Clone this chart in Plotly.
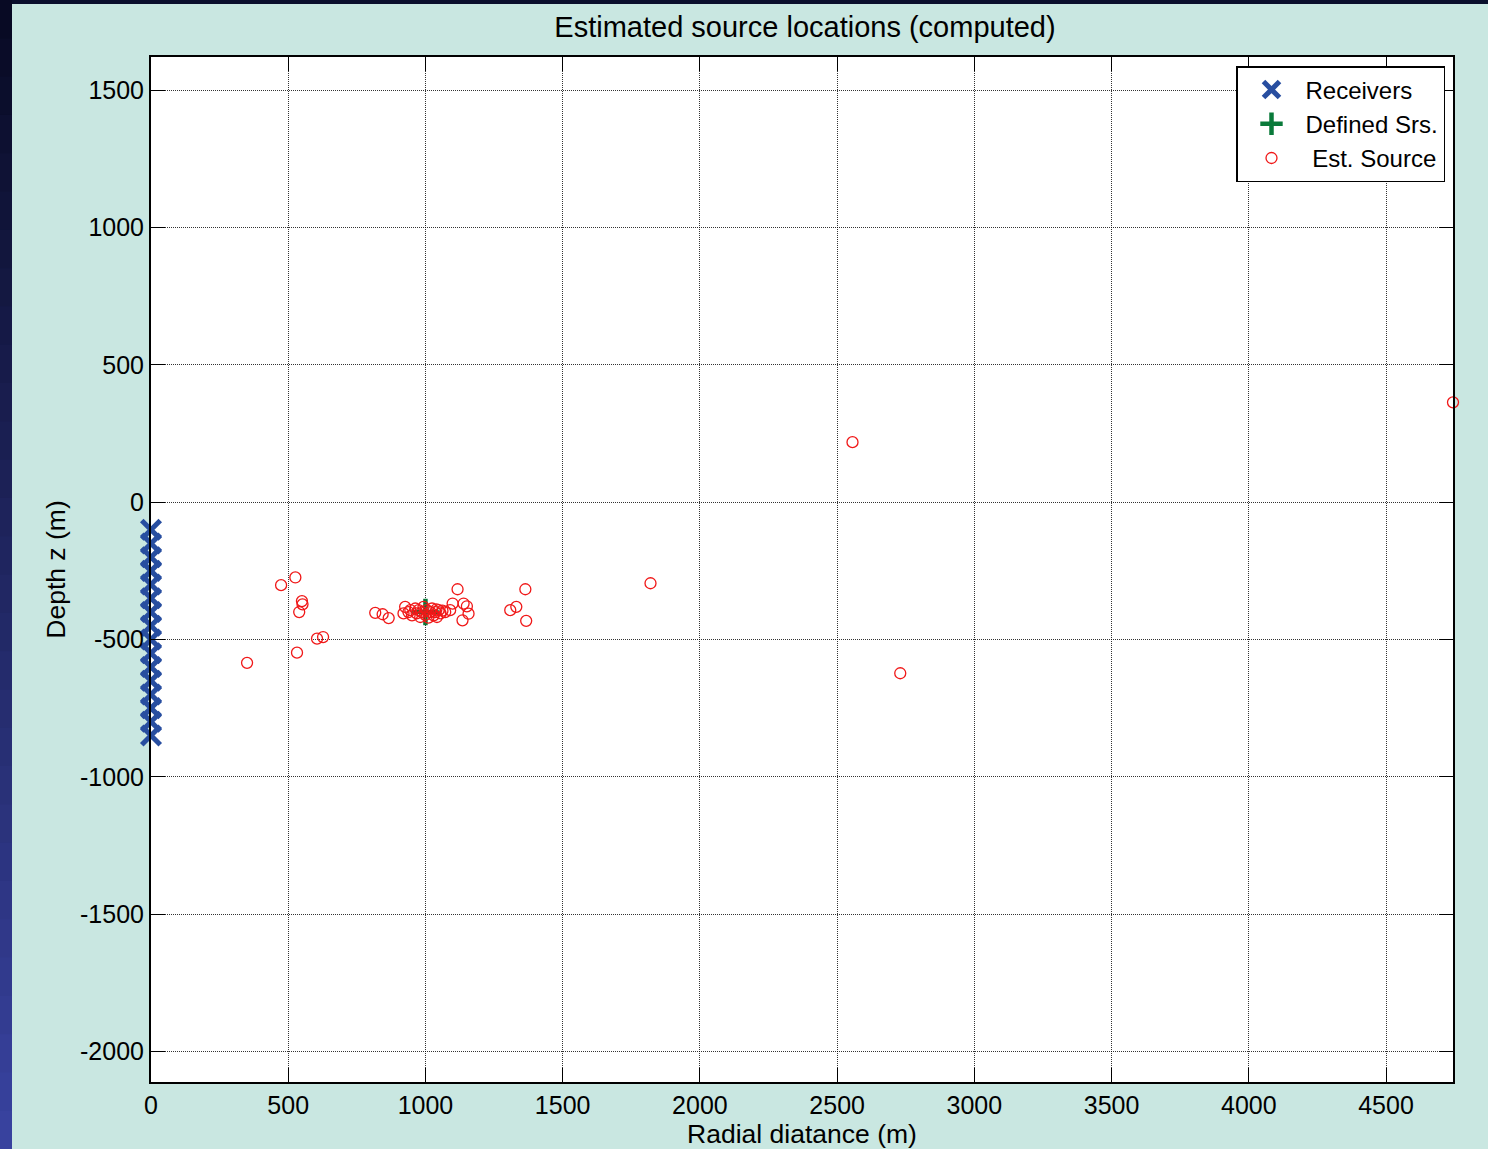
import plotly.graph_objects as go

# ---------------- data ----------------
receiver_x = [0] * 16
receiver_z = [-100, -150, -200, -250, -300, -350, -400, -450, -500, -550,
              -600, -650, -700, -750, -800, -850]

defined_x = [1000]
defined_z = [-400]

est_x = [350, 474, 526, 550, 552, 540, 605, 627, 532,
         817, 844, 866,
         926, 920, 938, 945, 951, 963, 968, 975, 981, 987, 993, 999, 1005,
         1011, 1018, 1024, 1030, 1036, 1042, 1048, 1055, 1062, 1072, 1040,
         1117, 1099, 1139, 1151, 1157, 1135, 1090,
         1364, 1309, 1331, 1367,
         1820, 2556, 2730, 4744]
est_z = [-585, -302, -274, -360, -372, -400, -497, -491, -548,
         -403, -408, -422,
         -381, -405, -400, -393, -412, -387, -405, -393, -418, -400, -381, -410, -393,
         -420, -400, -387, -412, -400, -418, -393, -405, -395, -400, -390,
         -317, -369, -369, -379, -406, -430, -393,
         -317, -393, -381, -432,
         -295, 219, -623, 364]

x_ticks = [0, 500, 1000, 1500, 2000, 2500, 3000, 3500, 4000, 4500]
x_tick_labels = ["0", "500", "1000", "1500", "2000", "2500", "3000", "3500", "4000", "4500"]
y_ticks = [-2000, -1500, -1000, -500, 0, 500, 1000, 1500]
y_tick_labels = ["-2000", "-1500", "-1000", "-500", "0", "500", "1000", "1500"]

# ---------------- figure ----------------
FONT = "Liberation Sans, Arial, Helvetica, sans-serif"
W, H = 1488, 1149
L, R, T, B = 151, 35, 57, 67
PW, PH = W - L - R, H - T - B

fig = go.Figure()

fig.add_trace(go.Scatter(
    x=receiver_x, y=receiver_z, mode="markers", name="Receivers",
    marker=dict(symbol="x-thin", size=18.5, color="#284ea0",
                line=dict(color="#284ea0", width=5)),
    cliponaxis=False,
))
fig.add_trace(go.Scatter(
    x=defined_x, y=defined_z, mode="markers", name="Defined Srs.",
    marker=dict(symbol="cross-thin", size=19, color="#0a7a3a",
                line=dict(color="#0a7a3a", width=4.5)),
    cliponaxis=False,
))
fig.add_trace(go.Scatter(
    x=est_x, y=est_z, mode="markers", name=" Est. Source",
    marker=dict(symbol="circle-open", size=11, color="#f01818",
                line=dict(color="#f01818", width=1.3)),
    cliponaxis=False,
))


def px_x(p):
    return (p - L) / PW


def px_y(p):
    return (H - B - p) / PH


shapes = []
# dark frame: top strip
shapes.append(dict(type="rect", xref="paper", yref="paper", layer="below",
                   x0=px_x(0), x1=px_x(W), y0=px_y(0), y1=px_y(4),
                   fillcolor="#0a0f2c", line=dict(width=0)))
# dark frame: left strip with vertical gradient
n = 30
c_top = (8, 10, 36)
c_bot = (56, 66, 158)
for i in range(n):
    t = i / (n - 1)
    c = tuple(int(round(c_top[k] + (c_bot[k] - c_top[k]) * t)) for k in range(3))
    shapes.append(dict(type="rect", xref="paper", yref="paper", layer="below",
                       x0=px_x(0), x1=px_x(12),
                       y0=px_y(H * i / n), y1=px_y(H * (i + 1) / n + 1),
                       fillcolor="rgb(%d,%d,%d)" % c, line=dict(width=0)))

axis_common = dict(
    showline=True, linecolor="black", linewidth=2, mirror="ticks",
    ticks="inside", ticklen=14, tickwidth=1, tickcolor="black",
    showgrid=True, gridcolor="rgba(0,0,0,0.8)", gridwidth=1, griddash="1px,1px",
    zeroline=False,
    tickfont=dict(family=FONT, size=25, color="black"),
)

fig.update_layout(
    width=W, height=H,
    margin=dict(l=L, r=R, t=T, b=B, autoexpand=False),
    paper_bgcolor="#c9e7e1",
    plot_bgcolor="white",
    shapes=shapes,
    title=dict(text="Estimated source locations (computed)",
               font=dict(family=FONT, size=29, color="black"),
               x=px_x(805), xref="paper", xanchor="center",
               y=1 - 27 / H, yref="container", yanchor="middle"),
    xaxis=dict(range=[0, 4744], tickvals=x_ticks, ticktext=x_tick_labels,
               title=dict(text="Radial diatance (m)",
                          font=dict(family=FONT, size=26.5, color="black"),
                          standoff=1),
               **axis_common),
    yaxis=dict(range=[-2112, 1622], tickvals=y_ticks, ticktext=y_tick_labels,
               title=dict(text="Depth z (m)",
                          font=dict(family=FONT, size=26.5, color="black"),
                          standoff=7),
               **axis_common),
    legend=dict(x=px_x(1445), y=px_y(66), xanchor="right", yanchor="top",
                bgcolor="white", bordercolor="black", borderwidth=1.5,
                font=dict(family=FONT, size=24, color="black"),
                itemwidth=58, tracegroupgap=0),
    showlegend=True,
)

fig.write_html("out.html")
